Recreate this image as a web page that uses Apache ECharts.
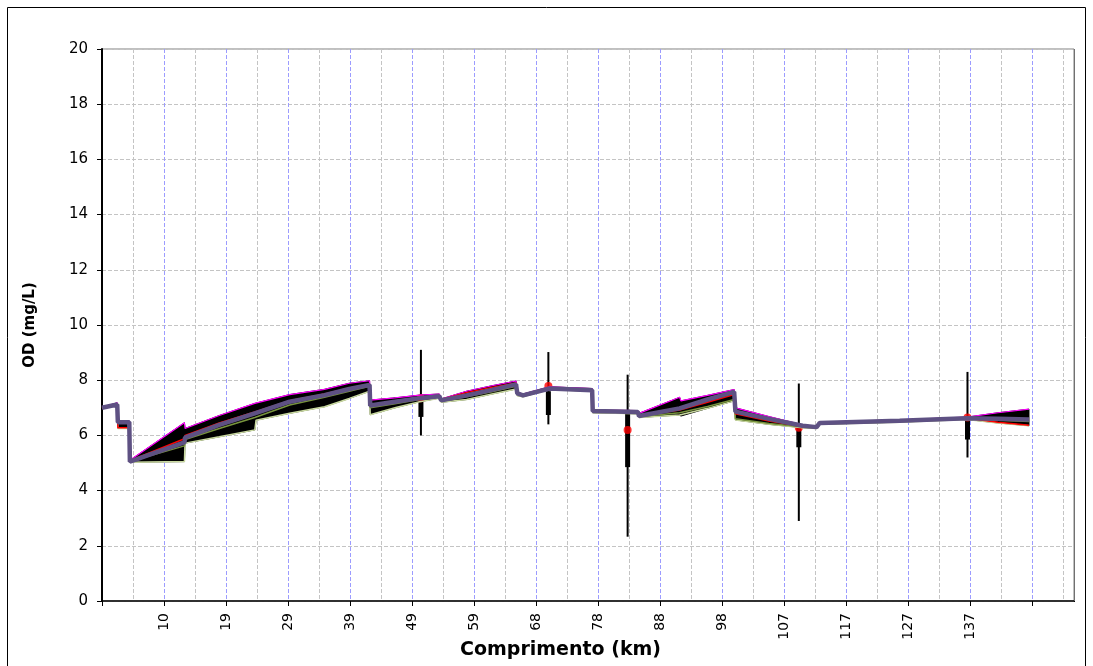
<!DOCTYPE html>
<html><head><meta charset="utf-8">
<script src="https://cdn.jsdelivr.net/npm/echarts@6/dist/echarts.min.js"></script>
<style>html,body{margin:0;padding:0;background:#fff}#c{width:1093px;height:666px}</style>
</head><body><div id="c"></div><script>
// ---- data ----
const X_TICK_LABELS = ['', '10', '19', '29', '39', '49', '59', '68', '78', '88', '98', '107', '117', '127', '137', ''];
const KM    = [0, 2.4, 2.5, 4.3, 4.4, 13.0, 13.1, 18.5, 24.1, 24.3, 29.6, 35.1, 39.0, 42.2, 42.3, 46.2, 50.1, 53.2, 53.5, 57.5, 61.5, 65.3, 65.5, 66.4, 70.6, 77.3, 77.4, 84.5, 84.7, 91.1, 91.3, 95.5, 99.7, 99.9, 105.2, 110.5, 112.7, 113.2, 125.8, 136.4, 141.3, 146.2];
const UPPER = [7.02, 7.18, 6.52, 6.52, 5.10, 6.46, 6.25, 6.72, 7.16, 7.17, 7.48, 7.67, 7.89, 7.98, 7.28, 7.36, 7.46, 7.50, 7.32, 7.60, 7.80, 7.97, 7.56, 7.50, 7.76, 7.70, 6.92, 6.90, 6.80, 7.38, 7.25, 7.45, 7.66, 7.00, 6.68, 6.38, 6.33, 6.48, 6.56, 6.66, 6.82, 6.95];
const LOWER = [6.98, 7.08, 6.25, 6.25, 5.03, 5.05, 5.72, 5.95, 6.20, 6.55, 6.80, 7.04, 7.34, 7.60, 6.75, 7.00, 7.22, 7.35, 7.20, 7.30, 7.50, 7.68, 7.44, 7.40, 7.66, 7.60, 6.82, 6.78, 6.65, 6.74, 6.70, 6.98, 7.25, 6.56, 6.40, 6.28, 6.25, 6.40, 6.48, 6.58, 6.45, 6.35];
const MEAN  = [7.00, 7.12, 6.48, 6.48, 5.05, 5.75, 5.92, 6.38, 6.80, 6.82, 7.22, 7.46, 7.68, 7.83, 7.08, 7.22, 7.35, 7.42, 7.27, 7.45, 7.65, 7.85, 7.52, 7.45, 7.70, 7.64, 6.88, 6.85, 6.70, 6.98, 7.00, 7.30, 7.58, 6.86, 6.60, 6.35, 6.30, 6.45, 6.53, 6.62, 6.60, 6.58];
const RED_RUN   = [7.00, 7.12, 6.28, 6.28, 5.08, 5.88, 6.00, 6.45, 6.85, 6.87, 7.26, 7.50, 7.72, 7.86, 7.10, 7.25, 7.38, 7.45, 7.30, 7.55, 7.74, 7.90, 7.52, 7.45, 7.72, 7.65, 6.88, 6.85, 6.70, 6.92, 6.95, 7.20, 7.48, 6.78, 6.52, 6.32, 6.28, 6.44, 6.52, 6.62, 6.48, 6.37];
const GREEN_RUN = [6.99, 7.10, 6.45, 6.45, 5.05, 5.62, 5.85, 6.25, 6.65, 6.72, 7.10, 7.38, 7.60, 7.78, 7.00, 7.15, 7.30, 7.40, 7.24, 7.40, 7.58, 7.78, 7.50, 7.43, 7.70, 7.63, 6.86, 6.82, 6.68, 6.82, 6.80, 7.05, 7.30, 6.60, 6.43, 6.30, 6.27, 6.42, 6.50, 6.60, 6.55, 6.50];
const OBS_KM   = [50.3, 70.4, 82.9, 109.9, 136.5];
const OBS_MEAN = [7.35, 7.79, 6.20, 6.28, 6.65];
const OBS_MIN  = [6.00, 6.40, 2.33, 2.90, 5.20];
const OBS_Q1   = [6.67, 6.74, 4.85, 5.57, 5.85];
const OBS_Q3   = [7.35, 7.60, 6.80, 6.40, 6.68];
const OBS_MAX  = [9.10, 9.02, 8.20, 7.88, 8.30];

// ---- axis config ----
const KM_PER_TICK = 9.78;
const X_MAX = 153.3;

const pairs = (ys) => KM.map((k, i) => [k, ys[i]]);
const chart = echarts.init(document.getElementById('c'), null, {renderer: 'canvas'});
const FONT = '"DejaVu Sans", "Liberation Sans", Arial, sans-serif';

const lineSeries = (name, ys, color, width) => ({
  name, type: 'line', data: pairs(ys), showSymbol: false, symbol: 'none',
  lineStyle: {color, width}, itemStyle: {color}, silent: true, animation: false
});

chart.setOption({
  animation: false,
  backgroundColor: '#fff',
  grid: {left: 102, right: 19, top: 49, bottom: 65, show: true, borderColor: '#808080', borderWidth: 1},
  graphic: [
    {type: 'rect', silent: true, shape: {x: 7.5, y: 7.5, width: 1078, height: 700}, style: {fill: 'none', stroke: '#000', lineWidth: 1}, z: -1},
    {type: 'line', silent: true, shape: {x1: 1074.5, y1: 49, x2: 1074.5, y2: 601}, style: {stroke: '#707070', lineWidth: 1}, z: 100},
    {type: 'rect', silent: true, shape: {x: 1072, y: 602, width: 6, height: 7}, style: {fill: '#fff'}, z: 100},
    {type: 'text', left: 460, top: 641, style: {text: 'Comprimento (km)', font: 'bold 19px ' + FONT, fill: '#000'}}
  ],
  xAxis: [{
    type: 'value', min: 0, max: X_MAX, interval: KM_PER_TICK,
    axisLine: {show: true, onZero: false, lineStyle: {color: '#000', width: 1.5}},
    axisTick: {show: true, length: 5, lineStyle: {color: '#000'}},
    axisLabel: {rotate: 90, margin: 12, color: '#000', fontSize: 14, fontFamily: FONT,
      formatter: (v) => { const s = X_TICK_LABELS[Math.round(v / KM_PER_TICK)]; return s === undefined ? '' : s; }},
    splitLine: {show: true, lineStyle: {color: '#9c9cff', type: [4, 2], width: 1}}
  }, {
    type: 'value', min: 0, max: X_MAX, interval: KM_PER_TICK / 2, position: 'bottom',
    axisLine: {show: false}, axisTick: {show: false}, axisLabel: {show: false},
    splitLine: {show: true, lineStyle: {color: ['rgba(0,0,0,0)', '#c4c4c4'], type: [4, 2], width: 1}}
  }],
  yAxis: {
    type: 'value', min: 0, max: 20, interval: 2,
    name: 'OD (mg/L)', nameLocation: 'middle', nameGap: 64,
    nameTextStyle: {color: '#000', fontWeight: 'bold', fontSize: 15, fontFamily: FONT},
    axisLine: {show: true, lineStyle: {color: '#000', width: 2}},
    axisTick: {show: true, length: 5, lineStyle: {color: '#000'}},
    axisLabel: {color: '#000', fontSize: 15, fontFamily: FONT, margin: 14},
    splitLine: {show: true, lineStyle: {color: '#c4c4c4', type: [4, 2], width: 1}}
  },
  series: [
    {
      name: 'band', type: 'custom', silent: true, data: [[0, 0]],
      renderItem: (params, api) => {
        if (params.dataIndex !== 0) return null;
        const pts = [];
        for (let i = 0; i < KM.length; i++) pts.push(api.coord([KM[i], UPPER[i]]));
        for (let i = KM.length - 1; i >= 0; i--) pts.push(api.coord([KM[i], LOWER[i]]));
        return {type: 'polygon', shape: {points: pts}, style: {fill: '#000', stroke: '#000', lineWidth: 1}};
      }
    },
    lineSeries('lower', LOWER, '#c9d9a0', 1.5),
    lineSeries('upper', UPPER, '#ff00ff', 1.2),
    lineSeries('green', GREEN_RUN, '#77933c', 1.5),
    lineSeries('red', RED_RUN, '#ff0000', 1.5),
    lineSeries('mean', MEAN, '#5e5183', 4.5),
    {
      name: 'obs', type: 'custom', silent: true,
      data: OBS_KM.map((k, i) => [k, OBS_MIN[i], OBS_Q1[i], OBS_Q3[i], OBS_MAX[i]]),
      encode: {x: 0, y: [1, 2, 3, 4]},
      renderItem: (params, api) => {
        const x = api.value(0);
        const pMin = api.coord([x, api.value(1)]);
        const pQ1 = api.coord([x, api.value(2)]);
        const pQ3 = api.coord([x, api.value(3)]);
        const pMax = api.coord([x, api.value(4)]);
        return {type: 'group', children: [
          {type: 'line', shape: {x1: pMin[0], y1: pMin[1], x2: pMax[0], y2: pMax[1]}, style: {stroke: '#000', lineWidth: 2}},
          {type: 'rect', shape: {x: pQ1[0] - 2.5, y: pQ3[1], width: 5, height: pQ1[1] - pQ3[1]}, style: {fill: '#000'}}
        ]};
      }
    },
    {
      name: 'obsMean', type: 'scatter', silent: true, symbol: 'circle', symbolSize: 8,
      data: OBS_KM.map((k, i) => [k, OBS_MEAN[i]]),
      itemStyle: {color: '#ff0000'}
    }
  ]
});
</script></body></html>
